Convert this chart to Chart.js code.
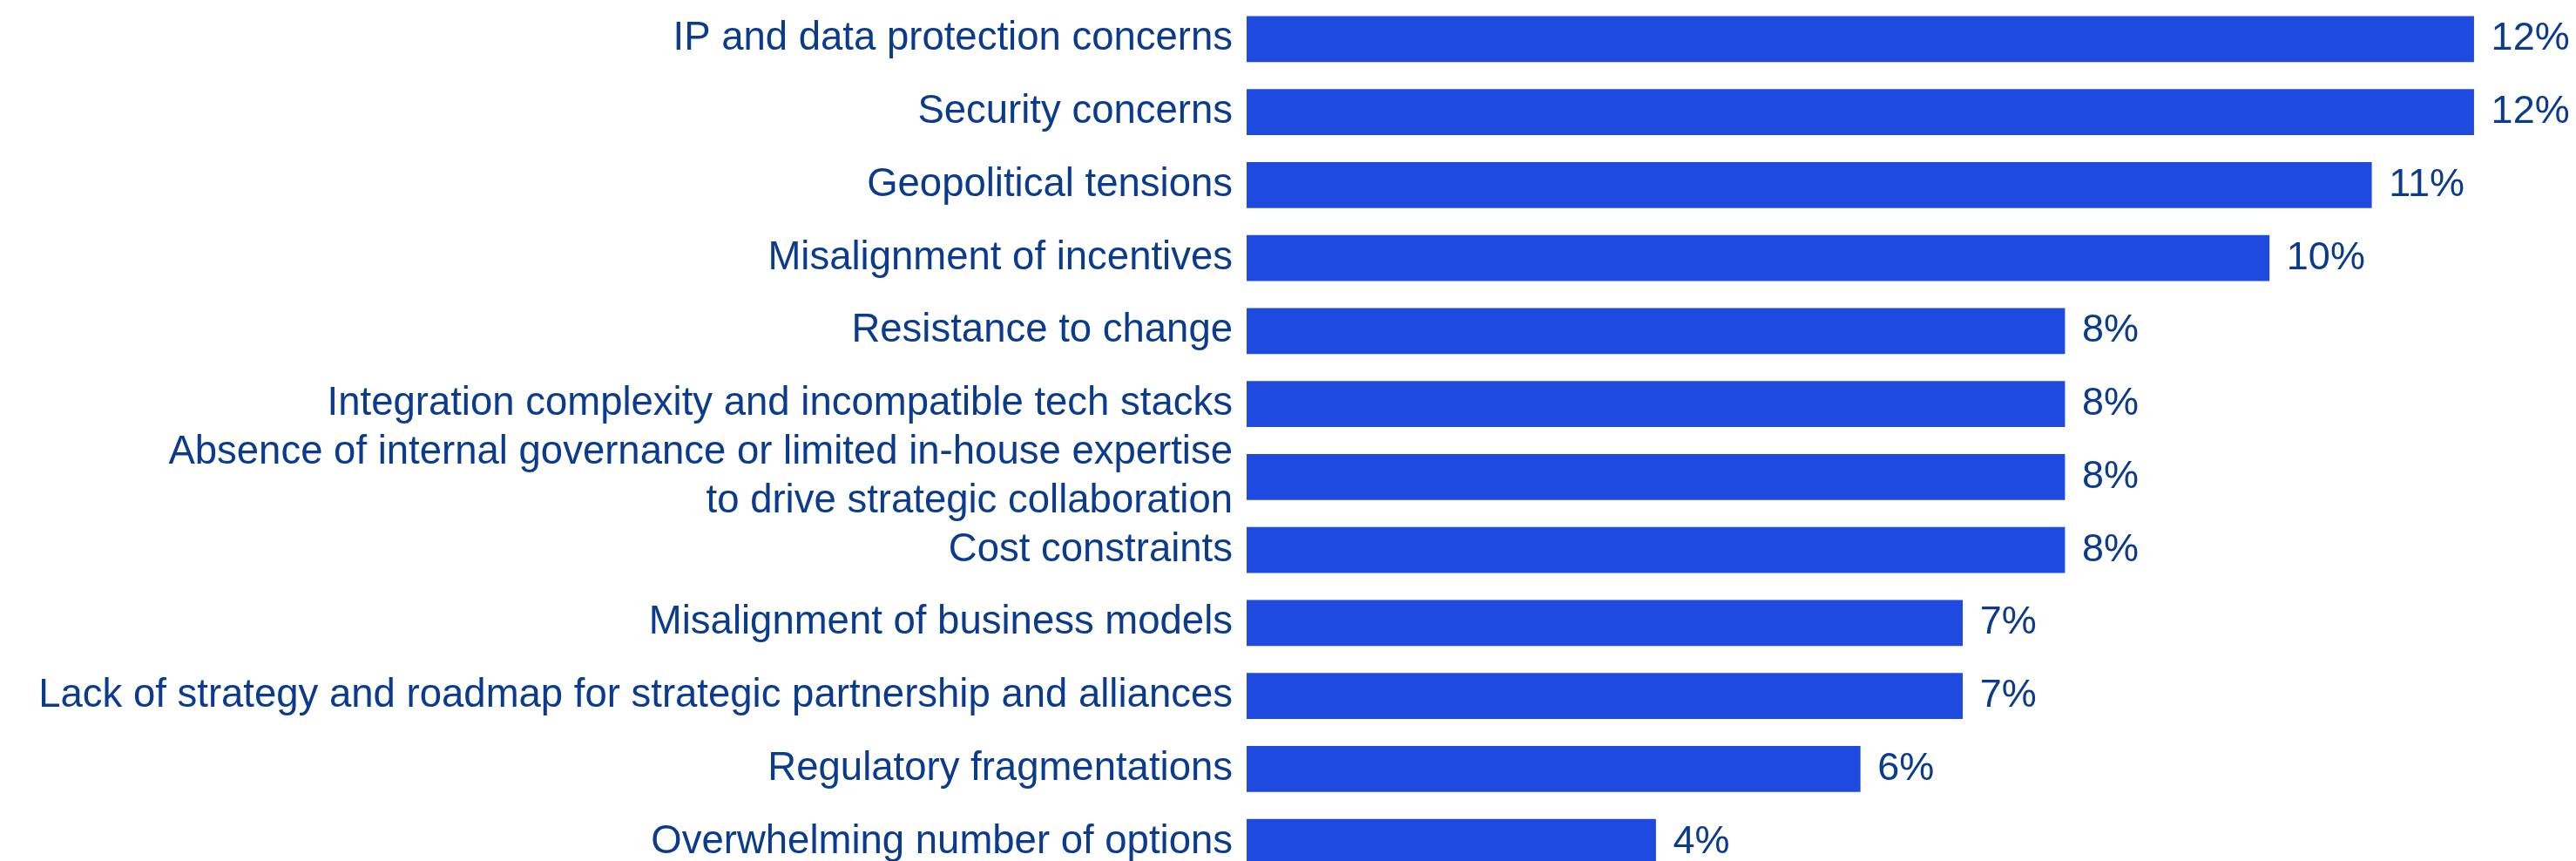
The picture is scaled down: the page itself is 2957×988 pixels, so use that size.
<!DOCTYPE html>
<html>
<head>
<meta charset="utf-8">
<script src="https://cdn.jsdelivr.net/npm/chart.js@4/dist/chart.umd.min.js"></script>
<style>
    html, body { margin: 0; padding: 0; background: #fff; overflow: hidden; }
    #wrap { width: 2957px; height: 1010px; }
</style>
</head>
<body>
<div id="wrap"><canvas id="chart" width="2957" height="1010"></canvas></div>
<script>
const categories = [
    "IP and data protection concerns",
    "Security concerns",
    "Geopolitical tensions",
    "Misalignment of incentives",
    "Resistance to change",
    "Integration complexity and incompatible tech stacks",
    ["Absence of internal governance or limited in-house expertise", "to drive strategic collaboration"],
    "Cost constraints",
    "Misalignment of business models",
    "Lack of strategy and roadmap for strategic partnership and alliances",
    "Regulatory fragmentations",
    "Overwhelming number of options"
];
const shares = [12, 12, 11, 10, 8, 8, 8, 8, 7, 7, 6, 4];

const barColor = "#1f4ae0";
const textColor = "#0b3b8f";
const fontFamily = "'Liberation Sans', Arial, sans-serif";

// draws "12%" etc. just past the end of every bar
const valueLabels = {
    id: "valueLabels",
    afterDatasetsDraw(chart) {
        const ctx = chart.ctx;
        const meta = chart.getDatasetMeta(0);
        ctx.save();
        ctx.font = "45px " + fontFamily;
        ctx.fillStyle = textColor;
        ctx.textAlign = "left";
        ctx.textBaseline = "middle";
        meta.data.forEach((bar, i) => {
            ctx.fillText(shares[i] + "%", bar.x + 20, bar.y);
        });
        ctx.restore();
    }
};

new Chart(document.getElementById("chart").getContext("2d"), {
    type: "bar",
    data: {
        labels: categories,
        datasets: [{
            data: shares,
            backgroundColor: barColor,
            borderWidth: 0,
            barThickness: 52
        }]
    },
    options: {
        indexAxis: "y",
        responsive: false,
        devicePixelRatio: 1,
        animation: false,
        layout: { padding: { top: 3, bottom: 2, left: 0, right: 0 } },
        plugins: {
            legend: { display: false },
            tooltip: { enabled: false }
        },
        scales: {
            x: {
                display: false,
                min: 0,
                max: 13
            },
            y: {
                grid: { display: false, drawTicks: false },
                border: { display: false },
                ticks: {
                    color: textColor,
                    padding: 16,
                    font: { family: fontFamily, size: 45.5, lineHeight: 1.22 },
                    autoSkip: false
                },
                afterFit(scale) {
                    scale.width = 1431;
                    // labels may hang past the plot edges, no extra room needed
                    scale.paddingTop = 0;
                    scale.paddingBottom = 0;
                }
            }
        }
    },
    plugins: [valueLabels]
});
</script>
</body>
</html>
